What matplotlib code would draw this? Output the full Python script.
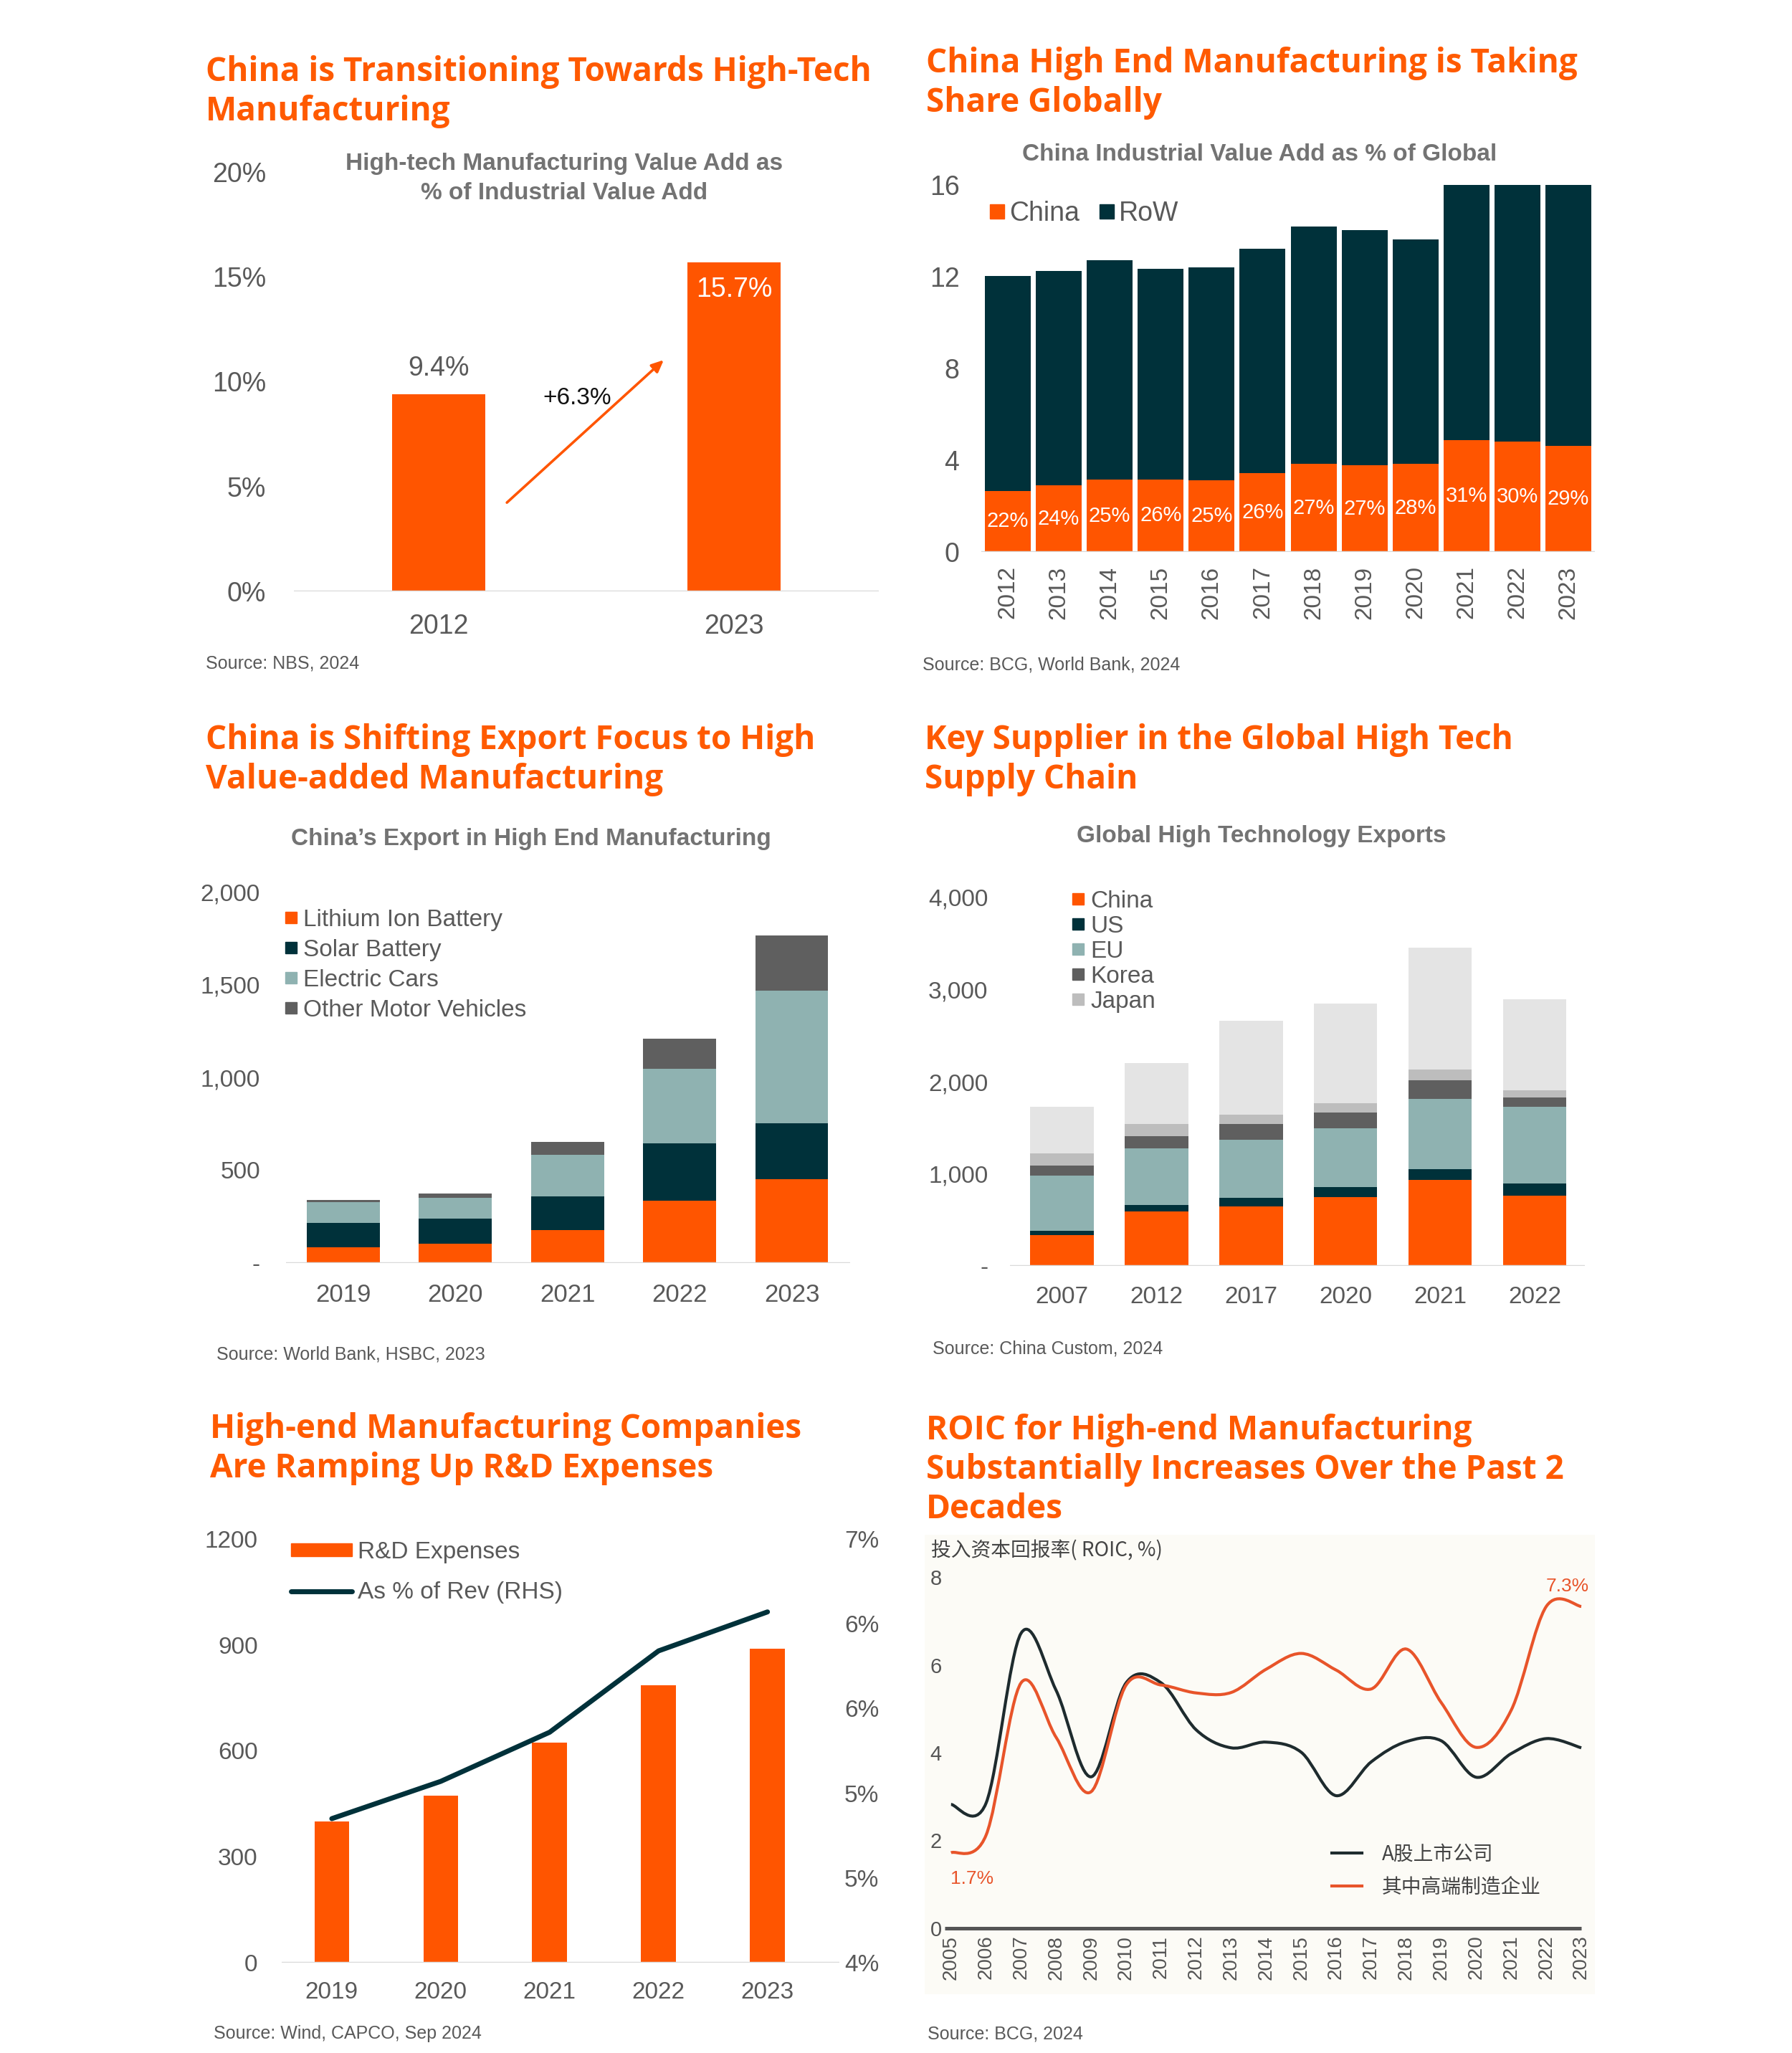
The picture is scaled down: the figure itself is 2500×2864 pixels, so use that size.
import matplotlib.pyplot as plt
import numpy as np
from matplotlib.lines import Line2D
from matplotlib.patches import Patch, PathPatch, Rectangle
from matplotlib.path import Path

plt.rcParams['font.family'] = ['Liberation Sans', 'Noto Sans CJK SC', 'DejaVu Sans']

# ---- data ----
p1_years = ['2012', '2023']
p1_share = [9.4, 15.7]

p2_years = ['2012', '2013', '2014', '2015', '2016', '2017', '2018', '2019', '2020', '2021', '2022', '2023']
p2_china = [2.66, 2.90, 3.15, 3.17, 3.11, 3.44, 3.83, 3.77, 3.83, 4.87, 4.81, 4.63]
p2_total = [12.02, 12.26, 12.71, 12.34, 12.40, 13.23, 14.18, 14.02, 13.64, 16.0, 16.0, 16.0]
p2_labels = ['22%', '24%', '25%', '26%', '25%', '26%', '27%', '27%', '28%', '31%', '30%', '29%']

p3_years = ['2019', '2020', '2021', '2022', '2023']
p3_lithium = [85, 104, 178, 334, 450]
p3_solar = [130, 136, 182, 310, 304]
p3_ev = [113, 110, 224, 402, 712]
p3_other = [12, 25, 70, 164, 299]

p4_years = ['2007', '2012', '2017', '2020', '2021', '2022']
p4_china = [334, 588, 648, 749, 934, 761]
p4_us = [48, 72, 92, 108, 120, 135]
p4_eu = [597, 618, 627, 639, 761, 835]
p4_korea = [111, 134, 170, 167, 200, 96]
p4_japan = [128, 128, 105, 101, 119, 83]
p4_rest = [513, 660, 1021, 1087, 1320, 986]

p5_years = ['2019', '2020', '2021', '2022', '2023']
p5_rd = [400, 474, 623, 786, 889]
p5_pct = [4.85, 5.07, 5.36, 5.84, 6.07]

p6_years = list(range(2005, 2024))
p6_all = [2.82, 2.85, 6.72, 5.42, 3.45, 5.59, 5.59, 4.52, 4.11, 4.24, 4.01, 3.02, 3.79, 4.25, 4.27, 3.44, 3.98, 4.32, 4.11]
p6_high = [1.72, 2.12, 5.59, 4.35, 3.11, 5.54, 5.54, 5.36, 5.37, 5.90, 6.26, 5.88, 5.45, 6.36, 5.14, 4.12, 4.97, 7.33, 7.33]

# ---- style ----
ORANGE = '#FF5500'
TITLE = '#FF5A00'
DARK = '#00313A'
TEAL = '#8FB2B1'
DGRAY = '#5F5F5F'
LGRAY = '#BDBDBD'
XLGRAY = '#E4E4E4'
TICK = '#595959'
SUB = '#737373'
BASE = '#D9D9D9'

W, H = 2500, 2864
fig = plt.figure(figsize=(W / 100, H / 100), dpi=100)


def add_ax(l, t, r, b):
    return fig.add_axes([l / W, 1 - b / H, (r - l) / W, (b - t) / H])


def title(x, ys, lines):
    for y, s in zip(ys, lines):
        fig.text(x / W, 1 - y / H, s, fontfamily='Open Sans', fontweight='bold',
                 fontsize=33, color=TITLE, va='baseline', ha='left')


def subtitle(x, y, s, size=24):
    fig.text(x / W, 1 - y / H, s, fontweight='bold', fontsize=size, color=SUB,
             ha='center', va='center')


def source(x, y, s):
    fig.text(x / W, 1 - y / H, s, fontsize=18, color=TICK, ha='left', va='center')


def clean(ax):
    for sp in ax.spines.values():
        sp.set_visible(False)
    ax.tick_params(length=0, colors=TICK)


def fig_xy(x, y):
    return (x / W, 1 - y / H)


# ---- panel 1 ----
title(287, [113, 168], ['China is Transitioning Towards High-Tech', 'Manufacturing'])
subtitle(787, 229, 'High-tech Manufacturing Value Add as')
subtitle(787, 269, '% of Industrial Value Add')
ax1 = add_ax(410, 240, 1226, 825)
x1 = np.arange(len(p1_years))
ax1.bar(x1, p1_share, width=0.316, color=ORANGE)
ax1.axhline(0, color=BASE, lw=2.5)
ax1.set_xlim(-0.49, 1.49)
ax1.set_ylim(0, 20)
ax1.set_yticks([0, 5, 10, 15, 20])
ax1.set_yticklabels([f'{v}%' for v in [0, 5, 10, 15, 20]], fontsize=27)
ax1.set_xticks(x1)
ax1.set_xticklabels(p1_years, fontsize=27)
clean(ax1)
ax1.tick_params(axis='y', pad=28)
ax1.tick_params(axis='x', pad=22)
ax1.text(x1[0], p1_share[0] + 0.6, f'{p1_share[0]}%', ha='center', va='bottom', fontsize=27, color=TICK)
ax1.text(x1[1], p1_share[1] - 1.3, f'{p1_share[1]}%', ha='center', va='center', fontsize=27, color='white')
ax1.annotate('', xy=(0.767, 11.1), xytext=(0.226, 4.17),
             arrowprops=dict(arrowstyle='-|>,head_length=1.0,head_width=0.45', color=ORANGE, lw=2.6))
ax1.text(0.469, 9.2, f'+{p1_share[1] - p1_share[0]:.1f}%', ha='center', va='center', fontsize=24, color='#111111')
source(287, 926, 'Source: NBS, 2024')

# ---- panel 2 ----
title(1292, [101, 156], ['China High End Manufacturing is Taking', 'Share Globally'])
subtitle(1757, 216, 'China Industrial Value Add as % of Global')
ax2 = add_ax(1369, 258, 2225, 770)
x2 = np.arange(len(p2_years))
p2_row = [t - c for t, c in zip(p2_total, p2_china)]
ax2.bar(x2, p2_china, width=0.9, color=ORANGE, label='China')
ax2.bar(x2, p2_row, bottom=p2_china, width=0.9, color=DARK, label='RoW')
ax2.axhline(0, color=BASE, lw=2.5)
ax2.set_xlim(-0.52, 11.52)
ax2.set_ylim(0, 16)
ax2.set_yticks([0, 4, 8, 12, 16])
ax2.set_yticklabels(['0', '4', '8', '12', '16'], fontsize=27)
ax2.set_xticks(x2)
ax2.set_xticklabels(p2_years, rotation=90, fontsize=24)
clean(ax2)
ax2.tick_params(axis='y', pad=22)
ax2.tick_params(axis='x', pad=14)
for xi, c, lab in zip(x2, p2_china, p2_labels):
    ax2.text(xi, c / 2, lab, ha='center', va='center', color='white', fontsize=21)
h2 = [Line2D([], [], marker='s', ls='', color=ORANGE, markersize=14),
      Line2D([], [], marker='s', ls='', color=DARK, markersize=14)]
fig.legend(h2, ['China', 'RoW'], loc='center left', bbox_to_anchor=fig_xy(1380, 298), ncol=2,
           frameon=False, fontsize=27, labelcolor=TICK, handlelength=0.6, handletextpad=0.15,
           columnspacing=0.7, borderpad=0, borderaxespad=0)
source(1287, 928, 'Source: BCG, World Bank, 2024')

# ---- panel 3 ----
title(287, [1045, 1100], ['China is Shifting Export Focus to High', 'Value-added Manufacturing'])
subtitle(741, 1171, 'China’s Export in High End Manufacturing')
ax3 = add_ax(399, 1244, 1186, 1762)
x3 = np.arange(len(p3_years))
series3 = [(p3_lithium, ORANGE, 'Lithium Ion Battery'), (p3_solar, DARK, 'Solar Battery'),
           (p3_ev, TEAL, 'Electric Cars'), (p3_other, DGRAY, 'Other Motor Vehicles')]
bottom = np.zeros(len(x3))
for vals, col, lab in series3:
    ax3.bar(x3, vals, bottom=bottom, width=0.65, color=col)
    bottom += np.array(vals)
ax3.axhline(0, color=BASE, lw=2.5)
ax3.set_xlim(-0.51, 4.52)
ax3.set_ylim(0, 2000)
ax3.set_yticks([0, 500, 1000, 1500, 2000])
ax3.set_yticklabels(['-', '500', '1,000', '1,500', '2,000'], fontsize=24)
ax3.set_xticks(x3)
ax3.set_xticklabels(p3_years, fontsize=25)
clean(ax3)
ax3.tick_params(axis='y', pad=26)
ax3.tick_params(axis='x', pad=20)
h3 = [Line2D([], [], marker='s', ls='', color=c, markersize=12) for _, c, _ in series3]
fig.legend(h3, [s[2] for s in series3], loc='upper left', bbox_to_anchor=fig_xy(398, 1268),
           frameon=False, fontsize=24, labelcolor=TICK, handlelength=0.5, handletextpad=0.25,
           labelspacing=0.33, borderpad=0, borderaxespad=0)
source(302, 1889, 'Source: World Bank, HSBC, 2023')

# ---- panel 4 ----
title(1290, [1045, 1100], ['Key Supplier in the Global High Tech', 'Supply Chain'])
subtitle(1760, 1167, 'Global High Technology Exports')
ax4 = add_ax(1409, 1252, 2211, 1766)
x4 = np.arange(len(p4_years))
series4 = [(p4_china, ORANGE, 'China'), (p4_us, DARK, 'US'), (p4_eu, TEAL, 'EU'),
           (p4_korea, DGRAY, 'Korea'), (p4_japan, LGRAY, 'Japan'), (p4_rest, XLGRAY, None)]
bottom = np.zeros(len(x4))
for vals, col, lab in series4:
    ax4.bar(x4, vals, bottom=bottom, width=0.67, color=col)
    bottom += np.array(vals)
ax4.axhline(0, color=BASE, lw=2.5)
ax4.set_xlim(-0.55, 5.53)
ax4.set_ylim(0, 4000)
ax4.set_yticks([0, 1000, 2000, 3000, 4000])
ax4.set_yticklabels(['-', '1,000', '2,000', '3,000', '4,000'], fontsize=24)
ax4.set_xticks(x4)
ax4.set_xticklabels(p4_years, fontsize=24)
clean(ax4)
ax4.tick_params(axis='y', pad=22)
ax4.tick_params(axis='x', pad=20)
h4 = [Line2D([], [], marker='s', ls='', color=c, markersize=12) for _, c, lab in series4 if lab]
fig.legend(h4, [lab for _, _, lab in series4 if lab], loc='upper left', bbox_to_anchor=fig_xy(1496, 1242),
           frameon=False, fontsize=24, labelcolor=TICK, handlelength=0.5, handletextpad=0.25,
           labelspacing=0.12, borderpad=0, borderaxespad=0)
source(1301, 1881, 'Source: China Custom, 2024')

# ---- panel 5 ----
title(293, [2006, 2061], ['High-end Manufacturing Companies', 'Are Ramping Up R&D Expenses'])
ax5 = add_ax(393, 2147, 1171, 2738)
x5 = np.arange(len(p5_years))
ax5.bar(x5, p5_rd, width=0.32, color=ORANGE)
ax5.axhline(0, color=BASE, lw=2.5)
ax5.set_xlim(-0.46, 4.66)
ax5.set_ylim(0, 1200)
ax5.set_yticks([0, 300, 600, 900, 1200])
ax5.set_yticklabels(['0', '300', '600', '900', '1200'], fontsize=24)
ax5.set_xticks(x5)
ax5.set_xticklabels(p5_years, fontsize=24)
clean(ax5)
ax5.tick_params(axis='y', pad=24)
ax5.tick_params(axis='x', pad=19)
ax5r = ax5.twinx()
ax5r.plot(x5, p5_pct, color=DARK, lw=5, solid_capstyle='round', solid_joinstyle='round')
ax5r.set_ylim(4, 6.5)
rt = [4.0, 4.5, 5.0, 5.5, 6.0, 6.5]
ax5r.set_yticks(rt)
ax5r.set_yticklabels(['4%', '5%', '5%', '6%', '6%', '7%'], fontsize=24)
clean(ax5r)
ax5r.tick_params(axis='y', pad=5)
h5 = [Patch(color=ORANGE), Line2D([], [], color=DARK, lw=5, solid_capstyle='round')]
fig.legend(h5, ['R&D Expenses', 'As % of Rev (RHS)'], loc='upper left', bbox_to_anchor=fig_xy(406, 2150),
           frameon=False, fontsize=24, labelcolor=TICK, handlelength=2.55, handleheight=0.45,
           handletextpad=0.25, labelspacing=0.75, borderpad=0, borderaxespad=0)
source(298, 2837, 'Source: Wind, CAPCO, Sep 2024')

# ---- panel 6 ----
title(1292, [2008, 2063, 2118], ['ROIC for High-end Manufacturing',
                                 'Substantially Increases Over the Past 2', 'Decades'])
fig.patches.append(Rectangle(fig_xy(1290, 2782), 935 / W, 641 / H, transform=fig.transFigure,
                             facecolor='#FCFBF6', edgecolor='none', zorder=-5))
fig.text(1299 / W, 1 - 2163 / H, '投入资本回报率( ROIC, %)', fontsize=20, color='#444444',
         ha='left', va='center', fontfamily=['Noto Sans CJK SC', 'Liberation Sans'])
ax6 = add_ax(1318, 2200, 2208, 2690)
ax6.set_facecolor('none')


def smooth_path(xs, ys):
    pts = list(zip(xs, ys))
    n = len(pts)
    verts = [pts[0]]
    codes = [Path.MOVETO]
    for i in range(n - 1):
        p0 = pts[i - 1] if i > 0 else pts[i]
        p1 = pts[i]
        p2 = pts[i + 1]
        p3 = pts[i + 2] if i + 2 < n else pts[i + 1]
        c1 = (p1[0] + (p2[0] - p0[0]) / 6, p1[1] + (p2[1] - p0[1]) / 6)
        c2 = (p2[0] - (p3[0] - p1[0]) / 6, p2[1] - (p3[1] - p1[1]) / 6)
        verts += [c1, c2, p2]
        codes += [Path.CURVE4] * 3
    return Path(verts, codes)


C_ALL = '#1E2B2E'
C_HIGH = '#E8542A'
ax6.add_patch(PathPatch(smooth_path(p6_years, p6_all), fill=False, edgecolor=C_ALL, lw=3))
ax6.add_patch(PathPatch(smooth_path(p6_years, p6_high), fill=False, edgecolor=C_HIGH, lw=3))
ax6.set_xlim(2004.82, 2023.04)
ax6.set_ylim(0, 8)
ax6.hlines(0, 2004.82, p6_years[-1], color='#555555', lw=3.6, clip_on=False)
ax6.set_yticks([0, 2, 4, 6, 8])
ax6.set_yticklabels(['0', '2', '4', '6', '8'], fontsize=21)
ax6.set_xticks(p6_years)
ax6.set_xticklabels([str(y) for y in p6_years], rotation=90, fontsize=20)
clean(ax6)
ax6.tick_params(colors='#555555')
ax6.tick_params(axis='y', pad=3)
ax6.tick_params(axis='x', pad=7)
ax6.text(p6_years[-1] - 0.4, p6_high[-1] + 0.45, f'{p6_high[-1]:.1f}%', color=C_HIGH, fontsize=19,
         ha='center', va='center')
ax6.text(p6_years[0] + 0.6, p6_high[0] - 0.6, f'{p6_high[0]:.1f}%', color=C_HIGH, fontsize=19,
         ha='center', va='center')
h6 = [Line2D([], [], color=C_ALL, lw=3), Line2D([], [], color=C_HIGH, lw=3)]
fig.legend(h6, ['A股上市公司', '其中高端制造企业'], loc='upper left', bbox_to_anchor=fig_xy(1858, 2572),
           frameon=False, labelcolor='#444444', handlelength=1.5, handletextpad=1.0,
           labelspacing=0.55, borderpad=0, borderaxespad=0,
           prop={'family': ['Noto Sans CJK SC', 'Liberation Sans'], 'size': 20})
source(1294, 2837, 'Source: BCG, 2024')

fig.savefig('out.png', dpi=100, facecolor='white')
